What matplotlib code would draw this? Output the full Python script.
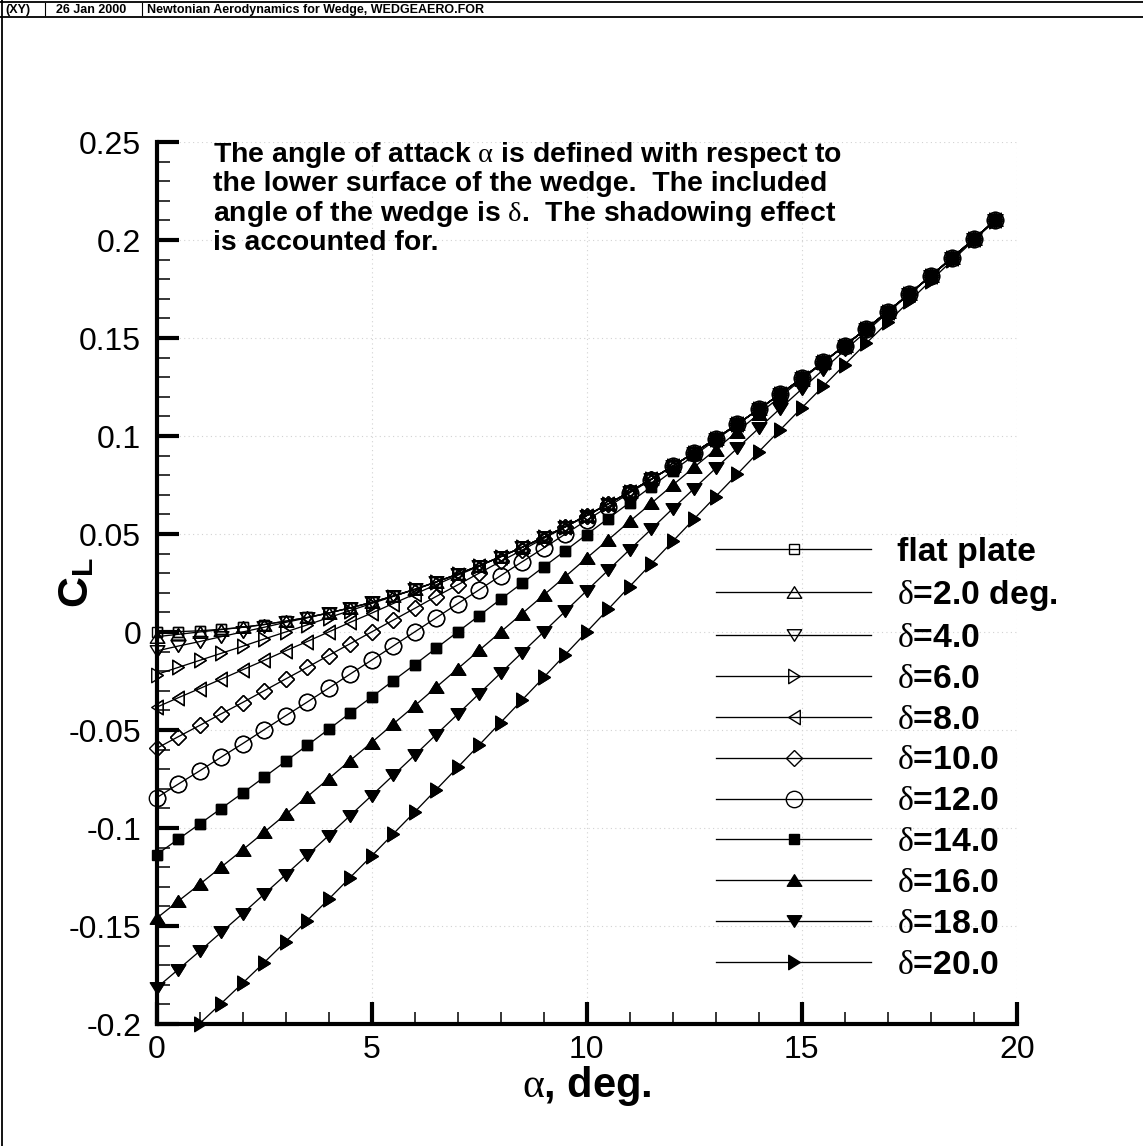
import matplotlib
matplotlib.use('Agg')
import matplotlib.pyplot as plt
import numpy as np
from matplotlib.path import Path
from matplotlib.markers import MarkerStyle
from matplotlib.font_manager import FontProperties
from matplotlib.ticker import MultipleLocator, FixedLocator, FixedFormatter

plt.rcParams['font.family'] = ['Liberation Sans', 'DejaVu Sans']
plt.rcParams['mathtext.fontset'] = 'custom'
plt.rcParams['mathtext.rm'] = 'Liberation Serif'
plt.rcParams['mathtext.it'] = 'Liberation Serif:italic'
plt.rcParams['mathtext.bf'] = 'Liberation Sans:bold'
plt.rcParams['axes.unicode_minus'] = False

# ---------------- data ----------------
alpha_deg = [0.0, 0.5, 1.0, 1.5, 2.0, 2.5, 3.0, 3.5, 4.0, 4.5,
             5.0, 5.5, 6.0, 6.5, 7.0, 7.5, 8.0, 8.5, 9.0, 9.5,
             10.0, 10.5, 11.0, 11.5, 12.0, 12.5, 13.0, 13.5, 14.0, 14.5,
             15.0, 15.5, 16.0, 16.5, 17.0, 17.5, 18.0, 18.5, 19.0, 19.5]

cl_flat = [0.0000, 0.0002, 0.0006, 0.0014, 0.0024, 0.0038, 0.0055, 0.0074, 0.0097, 0.0123,
           0.0151, 0.0183, 0.0217, 0.0255, 0.0295, 0.0338, 0.0384, 0.0432, 0.0483, 0.0537,
           0.0594, 0.0653, 0.0715, 0.0779, 0.0846, 0.0915, 0.0986, 0.1060, 0.1136, 0.1214,
           0.1294, 0.1376, 0.1461, 0.1547, 0.1635, 0.1725, 0.1816, 0.1910, 0.2004, 0.2101]
cl_d2 = [-0.0024, -0.0012, 0.0000, 0.0012, 0.0024, 0.0038, 0.0055, 0.0074, 0.0097, 0.0123,
         0.0151, 0.0183, 0.0217, 0.0255, 0.0295, 0.0338, 0.0384, 0.0432, 0.0483, 0.0537,
         0.0594, 0.0653, 0.0715, 0.0779, 0.0846, 0.0915, 0.0986, 0.1060, 0.1136, 0.1214,
         0.1294, 0.1376, 0.1461, 0.1547, 0.1635, 0.1725, 0.1816, 0.1910, 0.2004, 0.2101]
cl_d4 = [-0.0097, -0.0072, -0.0049, -0.0024, 0.0000, 0.0024, 0.0049, 0.0072, 0.0097, 0.0123,
         0.0151, 0.0183, 0.0217, 0.0255, 0.0295, 0.0338, 0.0384, 0.0432, 0.0483, 0.0537,
         0.0594, 0.0653, 0.0715, 0.0779, 0.0846, 0.0915, 0.0986, 0.1060, 0.1136, 0.1214,
         0.1294, 0.1376, 0.1461, 0.1547, 0.1635, 0.1725, 0.1816, 0.1910, 0.2004, 0.2101]
cl_d6 = [-0.0217, -0.0181, -0.0145, -0.0109, -0.0073, -0.0036, 0.0000, 0.0036, 0.0073, 0.0109,
         0.0145, 0.0181, 0.0217, 0.0255, 0.0295, 0.0338, 0.0384, 0.0432, 0.0483, 0.0537,
         0.0594, 0.0653, 0.0715, 0.0779, 0.0846, 0.0915, 0.0986, 0.1060, 0.1136, 0.1214,
         0.1294, 0.1376, 0.1461, 0.1547, 0.1635, 0.1725, 0.1816, 0.1910, 0.2004, 0.2101]
cl_d8 = [-0.0384, -0.0336, -0.0289, -0.0241, -0.0193, -0.0145, -0.0096, -0.0049, 0.0000, 0.0049,
         0.0096, 0.0145, 0.0193, 0.0241, 0.0289, 0.0336, 0.0384, 0.0432, 0.0483, 0.0537,
         0.0594, 0.0653, 0.0715, 0.0779, 0.0846, 0.0915, 0.0986, 0.1060, 0.1136, 0.1214,
         0.1294, 0.1376, 0.1461, 0.1547, 0.1635, 0.1725, 0.1816, 0.1910, 0.2004, 0.2101]
cl_d10 = [-0.0594, -0.0535, -0.0477, -0.0418, -0.0360, -0.0300, -0.0240, -0.0181, -0.0120, -0.0060,
          0.0000, 0.0060, 0.0120, 0.0181, 0.0240, 0.0300, 0.0360, 0.0418, 0.0477, 0.0535,
          0.0594, 0.0653, 0.0715, 0.0779, 0.0846, 0.0915, 0.0986, 0.1060, 0.1136, 0.1214,
          0.1294, 0.1376, 0.1461, 0.1547, 0.1635, 0.1725, 0.1816, 0.1910, 0.2004, 0.2101]
cl_d12 = [-0.0846, -0.0777, -0.0709, -0.0639, -0.0570, -0.0499, -0.0428, -0.0358, -0.0287, -0.0215,
          -0.0144, -0.0072, 0.0000, 0.0072, 0.0144, 0.0215, 0.0287, 0.0358, 0.0428, 0.0499,
          0.0570, 0.0639, 0.0709, 0.0777, 0.0846, 0.0915, 0.0986, 0.1060, 0.1136, 0.1214,
          0.1294, 0.1376, 0.1461, 0.1547, 0.1635, 0.1725, 0.1816, 0.1910, 0.2004, 0.2101]
cl_d14 = [-0.1136, -0.1058, -0.0980, -0.0901, -0.0822, -0.0741, -0.0660, -0.0579, -0.0497, -0.0414,
          -0.0332, -0.0249, -0.0167, -0.0083, 0.0000, 0.0083, 0.0167, 0.0249, 0.0332, 0.0414,
          0.0497, 0.0579, 0.0660, 0.0741, 0.0822, 0.0901, 0.0980, 0.1058, 0.1136, 0.1214,
          0.1294, 0.1376, 0.1461, 0.1547, 0.1635, 0.1725, 0.1816, 0.1910, 0.2004, 0.2101]
cl_d16 = [-0.1461, -0.1374, -0.1288, -0.1200, -0.1112, -0.1022, -0.0931, -0.0841, -0.0749, -0.0656,
          -0.0564, -0.0470, -0.0377, -0.0282, -0.0188, -0.0094, 0.0000, 0.0094, 0.0188, 0.0282,
          0.0377, 0.0470, 0.0564, 0.0656, 0.0749, 0.0841, 0.0931, 0.1022, 0.1112, 0.1200,
          0.1288, 0.1374, 0.1461, 0.1547, 0.1635, 0.1725, 0.1816, 0.1910, 0.2004, 0.2101]
cl_d18 = [-0.1816, -0.1723, -0.1629, -0.1533, -0.1437, -0.1338, -0.1239, -0.1140, -0.1039, -0.0937,
          -0.0835, -0.0732, -0.0629, -0.0524, -0.0420, -0.0315, -0.0210, -0.0105, 0.0000, 0.0105,
          0.0210, 0.0315, 0.0420, 0.0524, 0.0629, 0.0732, 0.0835, 0.0937, 0.1039, 0.1140,
          0.1239, 0.1338, 0.1437, 0.1533, 0.1629, 0.1723, 0.1816, 0.1910, 0.2004, 0.2101]
cl_d20 = [-0.2198, -0.2099, -0.1998, -0.1896, -0.1792, -0.1687, -0.1580, -0.1473, -0.1364, -0.1253,
          -0.1143, -0.1031, -0.0919, -0.0805, -0.0691, -0.0577, -0.0462, -0.0347, -0.0232, -0.0116,
          0.0000, 0.0116, 0.0232, 0.0347, 0.0462, 0.0577, 0.0691, 0.0805, 0.0919, 0.1031,
          0.1143, 0.1253, 0.1364, 0.1473, 0.1580, 0.1687, 0.1792, 0.1896, 0.1998, 0.2099]

series_labels = ['flat plate', r'$\mathrm{\delta}$=2.0 deg.', r'$\mathrm{\delta}$=4.0',
                 r'$\mathrm{\delta}$=6.0', r'$\mathrm{\delta}$=8.0', r'$\mathrm{\delta}$=10.0',
                 r'$\mathrm{\delta}$=12.0', r'$\mathrm{\delta}$=14.0', r'$\mathrm{\delta}$=16.0',
                 r'$\mathrm{\delta}$=18.0', r'$\mathrm{\delta}$=20.0']

x_ticks = [0, 5, 10, 15, 20]
x_tick_labels = ['0', '5', '10', '15', '20']
y_ticks = [-0.2, -0.15, -0.1, -0.05, 0.0, 0.05, 0.1, 0.15, 0.2, 0.25]
y_tick_labels = ['-0.2', '-0.15', '-0.1', '-0.05', '0', '0.05', '0.1', '0.15', '0.2', '0.25']

x_label = r'$\mathrm{\alpha}$, deg.'
y_label = r'$\mathbf{C}_{\mathbf{L}}$'
note_lines = [r'The angle of attack $\mathrm{\alpha}$ is defined with respect to',
              'the lower surface of the wedge.  The included',
              r'angle of the wedge is $\mathrm{\delta}$.  The shadowing effect',
              'is accounted for.']
header_texts = ['(XY)', '26 Jan 2000', 'Newtonian Aerodynamics for Wedge, WEDGEAERO.FOR']

# ---------------- markers ----------------
def tri(kind):
    pts = {'up': [(-1, -0.8), (1, -0.8), (0, 0.8)],
           'down': [(-1, 0.8), (1, 0.8), (0, -0.8)],
           'right': [(-0.8, -1), (-0.8, 1), (0.8, 0)],
           'left': [(0.8, -1), (0.8, 1), (-0.8, 0)]}[kind]
    verts = pts + [pts[0]]
    codes = [Path.MOVETO, Path.LINETO, Path.LINETO, Path.CLOSEPOLY]
    return MarkerStyle(Path(verts, codes), joinstyle='miter')

SQ, TR, DM, CI = 7.7, 10.4, 7.9, 11.8
marker_styles = [('s', SQ, False), (tri('up'), TR, False), (tri('down'), TR, False),
                 (tri('right'), TR, False), (tri('left'), TR, False), ('D', DM, False),
                 ('o', CI, False), ('s', SQ, True), (tri('up'), TR, True),
                 (tri('down'), TR, True), (tri('right'), TR, True)]

series = [cl_flat, cl_d2, cl_d4, cl_d6, cl_d8, cl_d10, cl_d12, cl_d14, cl_d16, cl_d18, cl_d20]

# ---------------- figure ----------------
W, H = 1143, 1146
fig = plt.figure(figsize=(W / 100, H / 100), dpi=100)
fig.patch.set_facecolor('white')

ax_l, ax_r, ax_t, ax_b = 156.5, 1016.7, 142.0, 1024.0
ax = fig.add_axes([ax_l / W, 1 - ax_b / H, (ax_r - ax_l) / W, (ax_b - ax_t) / H])
ax.set_facecolor('none')
xlim = (0, 20)
ylim = (-0.2, 0.25)
ax.set_xlim(*xlim)
ax.set_ylim(*ylim)

x = np.array(alpha_deg)
handles = []
for y, lab, (mk, ms, filled) in zip(series, series_labels, marker_styles):
    y = np.array(y)
    fc = 'k' if filled else 'none'
    ln, = ax.plot(x, y, color='k', lw=0.95, marker=mk, ms=ms, mfc=fc, mec='k',
                  mew=1.0, label=lab, zorder=3)
    handles.append(ln)
    m = (y >= ylim[0]) & (y <= ylim[1])
    ax.plot(x[m], y[m], ls='none', marker=mk, ms=ms, mfc=fc, mec='k', mew=1.0,
            clip_on=False, zorder=4)

# axes styling
for s in ['top', 'right']:
    ax.spines[s].set_visible(False)
for s in ['left', 'bottom']:
    ax.spines[s].set_linewidth(3.0)
    ax.spines[s].set_capstyle('projecting')
    ax.spines[s].set_color('k')

ax.xaxis.set_major_locator(FixedLocator(x_ticks))
ax.xaxis.set_major_formatter(FixedFormatter(x_tick_labels))
ax.yaxis.set_major_locator(FixedLocator(y_ticks))
ax.yaxis.set_major_formatter(FixedFormatter(y_tick_labels))
ax.xaxis.set_minor_locator(MultipleLocator(1))
ax.yaxis.set_minor_locator(MultipleLocator(0.01))
ax.tick_params(which='both', direction='in', top=False, right=False, colors='k')
ax.tick_params(which='major', length=16, width=3.0, labelsize=23)
ax.tick_params(which='minor', length=9, width=1.1)
ax.tick_params(axis='x', which='major', pad=8)
ax.tick_params(axis='y', which='major', pad=11)

ax.grid(True, which='major', color='#d2d2d2', linestyle=(0, (1, 3)), linewidth=0.8)
ax.set_axisbelow(True)

# axis labels
ax.set_xlabel(x_label, fontsize=30, fontweight='bold')
ax.xaxis.label.set_va('baseline')
ax.xaxis.set_label_coords(0.5, ((H - 1097) - (H - ax_b)) / (ax_b - ax_t))

ax.set_ylabel(y_label, fontsize=31, fontweight='bold')
ax.yaxis.label.set_rotation_mode('anchor')
ax.yaxis.label.set_va('baseline')
ax.yaxis.label.set_ha('center')
ax.yaxis.set_label_coords((88 - ax_l) / (ax_r - ax_l), ((H - 583) - (H - ax_b)) / (ax_b - ax_t))

# legend
leg_prop = FontProperties(family='Liberation Sans', weight='bold', size=24.3)
leg = ax.legend(handles=handles, labels=series_labels, prop=leg_prop, frameon=False,
                numpoints=1, handlelength=4.6, handletextpad=0.77, labelspacing=0.293,
                borderpad=0, borderaxespad=0, loc='upper left',
                bbox_to_anchor=(716 / W, 1 - 537 / H), bbox_transform=fig.transFigure)

# overlay in pixel coordinates for page decorations and notes
ov = fig.add_axes([0, 0, 1, 1], zorder=10)
ov.set_xlim(0, W)
ov.set_ylim(H, 0)
ov.axis('off')
ov.patch.set_alpha(0)

for i, line in enumerate(note_lines):
    ov.text(213, 162 + i * 29.3, line, fontsize=20.4, fontweight='bold',
            ha='left', va='baseline')

# header frame
ov.plot([0, W], [1.5, 1.5], color='k', lw=1.3, solid_capstyle='butt')
ov.plot([0, W], [17, 17], color='k', lw=1.3, solid_capstyle='butt')
ov.plot([2, 2], [0, H], color='k', lw=1.3, solid_capstyle='butt')
ov.plot([45, 45], [3, 15], color='k', lw=0.8)
ov.plot([142, 142], [3, 15], color='k', lw=0.8)
for xp, t in zip([5, 56, 147], header_texts):
    ov.text(xp, 13, t, fontsize=9, fontweight='bold', ha='left', va='baseline')

fig.savefig('out.png', dpi=100)
